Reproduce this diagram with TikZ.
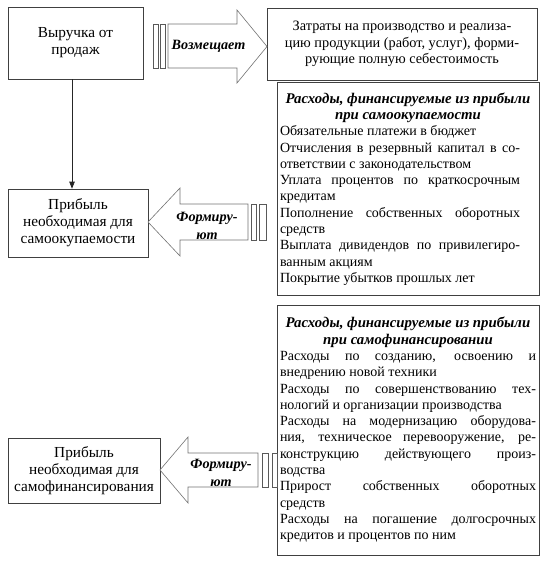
\documentclass[tikz,border=0pt]{standalone}
\usepackage{fontspec}
\setmainfont{Liberation Serif}
\usetikzlibrary{arrows.meta}
\begin{document}
\begin{tikzpicture}[x=1pt,y=-1pt,
  box/.style={draw=black!75, line width=0.7pt, inner sep=0pt, align=center, font=\fontsize{14}{16.3}\selectfont},
  smallbox/.style={box, font=\fontsize{15.3}{17}\selectfont},
  bigarrow/.style={draw=black!55, line width=0.6pt, fill=white},
  stripe/.style={draw=black!65, line width=0.6pt},
  lbl/.style={font=\fontsize{14.2}{17.5}\selectfont\bfseries\itshape, align=center, inner sep=0pt},
  conn/.style={draw=black!85, line width=0.7pt, -{Triangle[length=7pt,width=5.5pt]}}
]
\useasboundingbox (0,0) rectangle (545,562);

\node[smallbox, minimum width=135pt, minimum height=72pt] (rev) at (75.5,43) {Выручка от\\продаж};
\node[box, font=\fontsize{14.3}{16.8}\selectfont, minimum width=270pt, minimum height=72pt] (costs) at (402,44) {Затраты на производство и реализа-\\цию продукции (работ, услуг), форми-\\рующие полную себестоимость};
\node[smallbox, minimum width=140pt, minimum height=68pt] (pself) at (78,223) {Прибыль\\необходимая для\\самоокупаемости};
\node[smallbox, minimum width=152pt, minimum height=65pt] (pfin) at (84,470.5) {Прибыль\\необходимая для\\самофинансирования};

\node[box, text width=256pt, inner xsep=3pt, minimum height=213pt, align=justify] (eself) at (408,189) {{\centering\fontsize{14.8}{16.3}\selectfont\bfseries\itshape Расходы, финансируемые из прибыли\\при самоокупаемости\par}
\rightskip=16pt
Обязательные платежи в бюджет\par
Отчисления в резервный капитал в со-\linebreak ответствии с законодательством\par
Уплата процентов по краткосрочным\linebreak кредитам\par
Пополнение собственных оборотных\linebreak средств\par
Выплата дивидендов по привилегиро-\linebreak ванным акциям\par
Покрытие убытков прошлых лет\par};

\node[box, text width=256pt, inner xsep=3pt, minimum height=250pt, align=justify] (efin) at (408,430) {{\centering\fontsize{14.8}{16.3}\selectfont\bfseries\itshape Расходы, финансируемые из прибыли\\при самофинансировании\par}
Расходы по созданию, освоению и\linebreak внедрению новой техники\par
Расходы по совершенствованию тех-\linebreak нологий и организации производства\par
Расходы на модернизацию оборудова-\linebreak ния, техническое перевооружение, ре-\linebreak конструкцию действующего произ-\linebreak водства\par
Прирост собственных оборотных\linebreak средств\par
Расходы на погашение долгосрочных\linebreak кредитов и процентов по ним\par};

% arrow 1
\draw[bigarrow] (168,24) -- (237,24) -- (237,10) -- (267,46.5) -- (237,83) -- (237,68) -- (168,68) -- cycle;
\draw[stripe] (153,24) rectangle (158,68);
\draw[stripe] (160,24) rectangle (165,68);
\node[lbl] (l1) at (208.5,46) {Возмещает};

% arrow 2
\draw[bigarrow] (248,204) -- (180,204) -- (180,188) -- (148,222) -- (180,256) -- (180,240) -- (248,240) -- cycle;
\draw[stripe] (251,204) rectangle (256,240);
\draw[stripe] (259,204) rectangle (266,240);
\node[lbl] (l2) at (207,226) {Формиру-\\ют};

% arrow 3
\draw[bigarrow] (258,453) -- (188,453) -- (188,437) -- (160,470) -- (188,503) -- (188,487) -- (258,487) -- cycle;
\draw[stripe] (262,453) rectangle (268,487);
\draw[stripe] (272,453) rectangle (277,487);
\node[lbl] (l3) at (221,473) {Формиру-\\ют};

\draw[conn] ([xshift=-3.5pt]rev.south) -- ([xshift=-3.5pt]rev.south |- pself.north);
\end{tikzpicture}
\end{document}
